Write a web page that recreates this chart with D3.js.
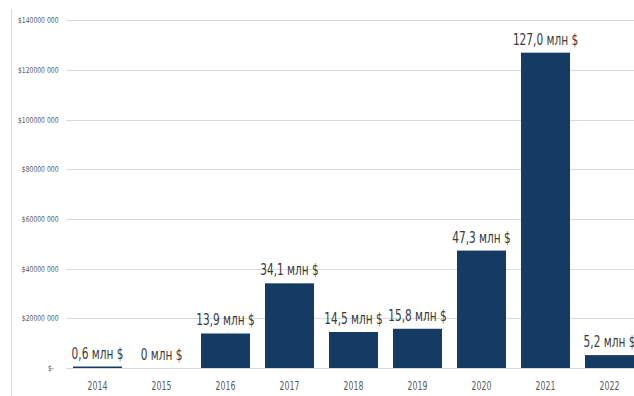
<!DOCTYPE html>
<html><head><meta charset="utf-8">
<script src="https://cdn.jsdelivr.net/npm/d3@7"></script>
<style>html,body{margin:0;padding:0;background:#fff;}svg{display:block;}</style>
</head><body>
<svg id="c" width="634" height="396"></svg>
<script>
const years = ["2014","2015","2016","2017","2018","2019","2020","2021","2022"];
const values = [0.6, 0, 13.9, 34.1, 14.5, 15.8, 47.3, 127.0, 5.2]; // млн $
const labels = ["0,6 млн $","0 млн $","13,9 млн $","34,1 млн $","14,5 млн $","15,8 млн $","47,3 млн $","127,0 млн $","5,2 млн $"];
const yTicks = [0, 20, 40, 60, 80, 100, 120, 140];
const yTickLabels = ["$-","$20000 000","$40000 000","$60000 000","$80000 000","$100000 000","$120000 000","$140000 000"];

const svg = d3.select("#c");
const x = d3.scaleBand().domain(years).range([65.5, 641.5]).paddingInner(0.234).paddingOuter(0.117);
const y = d3.scaleLinear().domain([0, 140]).range([368, 20.4]);
const font = "'DejaVu Sans', sans-serif";

// left border
svg.append("line").attr("x1", 11.5).attr("x2", 11.5).attr("y1", 9).attr("y2", 396)
  .attr("stroke", "#d9d9d9").attr("stroke-width", 1);

// gridlines
svg.append("g").selectAll("line").data(yTicks).join("line")
  .attr("x1", 66).attr("x2", 634)
  .attr("y1", d => Math.round(y(d)) + 0.5).attr("y2", d => Math.round(y(d)) + 0.5)
  .attr("stroke", "#d9d9d9").attr("stroke-width", 1);

// y tick labels (horizontally condensed)
const syT = 0.76;
svg.append("g").selectAll("text").data(yTicks).join("text")
  .attr("transform", d => `translate(58.5,${y(d)}) scale(${syT},1)`)
  .attr("x", (d, i) => i === 0 ? -6 : 0)
  .attr("dy", "0.35em").attr("text-anchor", "end")
  .style("font-family", font).style("font-size", "8px").attr("fill", "#595959")
  .text((d, i) => yTickLabels[i]);

// bars
svg.append("g").selectAll("rect").data(values).join("rect")
  .attr("x", (d, i) => x(years[i]))
  .attr("width", x.bandwidth())
  .attr("y", d => y(d))
  .attr("height", d => y(0) - y(d))
  .attr("fill", "#153a63");

// year labels
const sx = 0.65;
svg.append("g").selectAll("text").data(years).join("text")
  .attr("transform", d => `translate(${x(d) + x.bandwidth() / 2},390) scale(${sx},1)`)
  .attr("text-anchor", "middle")
  .style("font-family", font).style("font-size", "12px").attr("fill", "#595959")
  .text(d => d);

// data labels
const sl = 0.66;
svg.append("g").selectAll("text").data(values).join("text")
  .attr("transform", (d, i) => `translate(${x(years[i]) + x.bandwidth() / 2},${y(d) - 8}) scale(${sl},1)`)
  .attr("text-anchor", "middle")
  .style("font-family", font).style("font-size", "16px").attr("fill", "#3a3a3a")
  .text((d, i) => labels[i]);
</script>
</body></html>
